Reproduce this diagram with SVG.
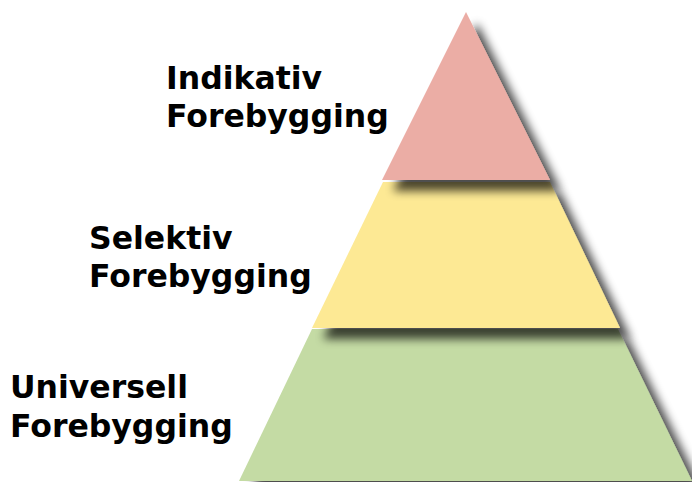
<svg xmlns="http://www.w3.org/2000/svg" width="692" height="482" viewBox="0 0 692 482">
<defs>
<filter id="sh" x="-20%" y="-20%" width="150%" height="150%">
<feGaussianBlur in="SourceAlpha" stdDeviation="5"/>
<feOffset dx="11" dy="11" result="b"/>
<feComponentTransfer><feFuncA type="linear" slope="0.7"/></feComponentTransfer>
<feMerge><feMergeNode/><feMergeNode in="SourceGraphic"/></feMerge>
</filter>
</defs>
<style>
.lbl{font-family:"DejaVu Sans",Verdana,sans-serif;font-weight:bold;font-size:31.5px;fill:#000}
</style>
<rect width="692" height="482" fill="#fff"/>
<g id="tier-universell">
<polygon points="312,329 618,329 692,481 239,481" fill="#C4DBA4" filter="url(#sh)"/>
</g>
<g id="tier-selektiv">
<polygon points="383,182 550,182 620,328 312,328" fill="#FDE994" filter="url(#sh)"/>
</g>
<g id="tier-indikativ">
<polygon points="466,12 550,180 382,180" fill="#EBADA5" filter="url(#sh)"/>
</g>
<g id="label-indikativ">
<text class="lbl" x="166" y="89">Indikativ</text>
<text class="lbl" x="166" y="127">Forebygging</text>
</g>
<g id="label-selektiv">
<text class="lbl" x="89" y="249">Selektiv</text>
<text class="lbl" x="89" y="287">Forebygging</text>
</g>
<g id="label-universell">
<text class="lbl" x="10" y="398">Universell</text>
<text class="lbl" x="10" y="437">Forebygging</text>
</g>
<g id="connectors"/>
</svg>
